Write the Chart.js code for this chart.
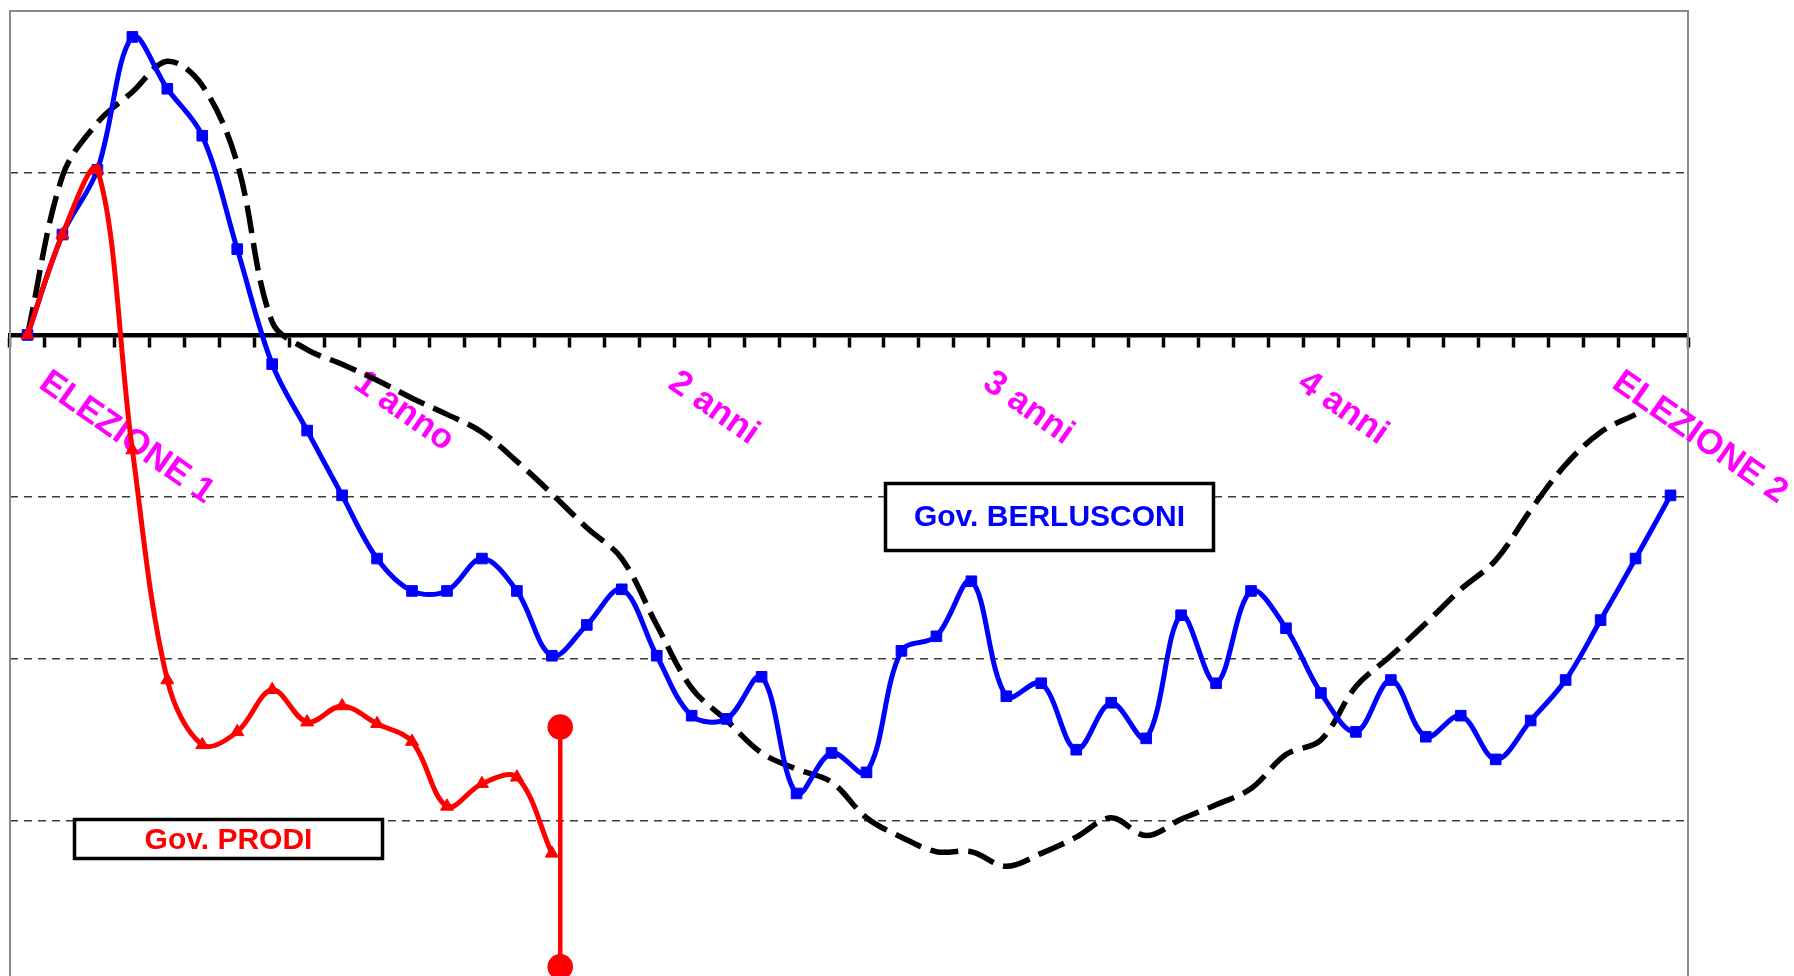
<!DOCTYPE html>
<html lang="it">
<head>
<meta charset="UTF-8" />
<title>Gov. PRODI - Gov. BERLUSCONI</title>
<style>
  html, body { margin: 0; padding: 0; background: #fff; }
  #chart-box { width: 1794px; height: 976px; }
</style>
</head>
<body>
<div id="chart-box"><canvas id="myChart" width="1794" height="976"></canvas></div>
<script src="https://cdn.jsdelivr.net/npm/chart.js"></script>
<script>
// etichette del periodo, una ogni 9 intervalli
const periodLabels = ['ELEZIONE 1', '1 anno', '2 anni', '3 anni', '4 anni', 'ELEZIONE 2']
const labelStep = 9
const periodCount = 48

// Gov. BERLUSCONI (blu, quadrati)
const berlusconi = [0, 0.62, 1.02, 1.84, 1.52, 1.23, 0.53, -0.18, -0.59, -0.99,
  -1.38, -1.58, -1.58, -1.38, -1.58, -1.98, -1.79, -1.57, -1.98, -2.35,
  -2.37, -2.11, -2.83, -2.58, -2.70, -1.95, -1.86, -1.52, -2.23, -2.15,
  -2.56, -2.27, -2.49, -1.73, -2.15, -1.58, -1.81, -2.21, -2.45, -2.13,
  -2.48, -2.35, -2.62, -2.38, -2.13, -1.76, -1.38, -0.99]

// Gov. PRODI (rosso, triangoli)
const prodi = [0, 0.62, 1.02, -0.71, -2.13, -2.53, -2.45, -2.19, -2.39, -2.29,
  -2.40, -2.51, -2.91, -2.77, -2.73, -3.20]

// linea di riferimento (nera tratteggiata)
const riferimento = [0, 0.98, 1.31, 1.50, 1.69, 1.54, 1.06, 0.08, -0.09, -0.18,
  -0.28, -0.39, -0.49, -0.60, -0.78, -0.98, -1.19, -1.38, -1.79, -2.18,
  -2.38, -2.58, -2.68, -2.76, -2.98, -3.10, -3.19, -3.19, -3.28, -3.20,
  -3.10, -2.98, -3.09, -2.99, -2.90, -2.80, -2.59, -2.50, -2.17, -1.98,
  -1.78, -1.57, -1.39, -1.08, -0.80, -0.60, -0.49]

// caduta del governo Prodi
const cadutaX = 15.24
const cadutaY = [-2.42, -3.90]

const categories = Array.from({ length: periodCount }, (_, i) =>
  i % labelStep === 0 ? periodLabels[i / labelStep] : '')

const FONT = '"Liberation Sans", Arial, Helvetica, sans-serif'

const decorations = {
  id: 'decorations',
  beforeDatasetsDraw(chart) {
    const { ctx, chartArea: a, scales: { x, y } } = chart
    ctx.save()
    // cornice grigia
    ctx.strokeStyle = '#8a8a8a'
    ctx.lineWidth = 2
    ctx.beginPath()
    ctx.moveTo(a.left, a.bottom + 5)
    ctx.lineTo(a.left, a.top)
    ctx.lineTo(a.right, a.top)
    ctx.lineTo(a.right, a.bottom + 5)
    ctx.stroke()

    // etichette ruotate sotto l'asse
    const y0 = y.getPixelForValue(0)
    ctx.fillStyle = '#ff00ff'
    ctx.font = 'bold 35px ' + FONT
    ctx.textAlign = 'left'
    ctx.textBaseline = 'alphabetic'
    categories.forEach((lab, i) => {
      if (!lab) return
      ctx.save()
      ctx.translate(x.getPixelForValue(i) + 10, y0 + 52)
      ctx.rotate(35 * Math.PI / 180)
      ctx.fillText(lab, 0, 0)
      ctx.restore()
    })

    // riquadri con i nomi
    const boxes = [
      { text: 'Gov. PRODI', color: '#ff0000', left: 74.5, top: 819.5, w: 308, h: 39, base: 849 },
      { text: 'Gov. BERLUSCONI', color: '#0000ff', left: 885.5, top: 483.5, w: 328, h: 67, base: 525.5 }
    ]
    boxes.forEach((b) => {
      ctx.fillStyle = '#fff'
      ctx.fillRect(b.left, b.top, b.w, b.h)
      ctx.strokeStyle = '#000'
      ctx.lineWidth = 3.5
      ctx.strokeRect(b.left, b.top, b.w, b.h)
      ctx.fillStyle = b.color
      ctx.font = 'bold 30px ' + FONT
      ctx.textAlign = 'center'
      ctx.fillText(b.text, b.left + b.w / 2, b.base)
    })
    ctx.restore()
  }
}

const ctx = document.getElementById('myChart')

new Chart(ctx, {
  type: 'line',
  data: {
    labels: categories,
    datasets: [
      {
        label: 'caduta',
        xAxisID: 'x2',
        data: cadutaY.map((v) => ({ x: cadutaX, y: v })),
        borderColor: '#ff0000',
        backgroundColor: '#ff0000',
        borderWidth: 4.5,
        pointStyle: 'circle',
        pointRadius: 10.5,
        tension: 0
      },
      {
        label: 'Gov. PRODI',
        data: prodi,
        borderColor: '#ff0000',
        backgroundColor: '#ff0000',
        borderWidth: 5,
        pointStyle: 'triangle',
        pointRadius: 7.5,
        pointBorderWidth: 1,
        tension: 0.35
      },
      {
        label: 'Gov. BERLUSCONI',
        data: berlusconi,
        borderColor: '#0000ff',
        backgroundColor: '#0000ff',
        borderWidth: 5,
        pointStyle: 'rect',
        pointRadius: 7.5,
        pointBorderWidth: 1,
        tension: 0.35
      },
      {
        label: 'riferimento',
        data: riferimento,
        borderColor: '#000',
        borderWidth: 5.5,
        borderDash: [28, 10],
        pointRadius: 0,
        tension: 0.35
      }
    ]
  },
  options: {
    responsive: false,
    animation: false,
    devicePixelRatio: 1,
    layout: { autoPadding: false, padding: { left: 10, top: 11, right: 106, bottom: 0 } },
    plugins: {
      legend: { display: false },
      tooltip: { enabled: false }
    },
    scales: {
      x: {
        type: 'category',
        position: { y: 0 },
        offset: true,
        afterFit: (scale) => { scale.height = 0 },
        grid: {
          offset: true,
          drawOnChartArea: false,
          drawTicks: true,
          tickLength: 10,
          tickWidth: 3.5,
          tickColor: '#000'
        },
        border: { display: true, color: '#000', width: 4.5 },
        ticks: { display: false }
      },
      x2: {
        type: 'linear',
        display: false,
        min: -0.5,
        max: periodCount - 0.5
      },
      y: {
        min: -3.957,
        max: 2,
        ticks: { display: false, stepSize: 1 },
        border: { display: false, dash: [8, 6] },
        grid: {
          drawTicks: false,
          lineWidth: 1.5,
          color: (c) => {
            const v = c.tick.value
            return (v === 0 || v >= 2 || v < -3.5) ? 'rgba(0,0,0,0)' : '#3a3a3a'
          }
        }
      }
    }
  },
  plugins: [decorations]
})
</script>
</body>
</html>
